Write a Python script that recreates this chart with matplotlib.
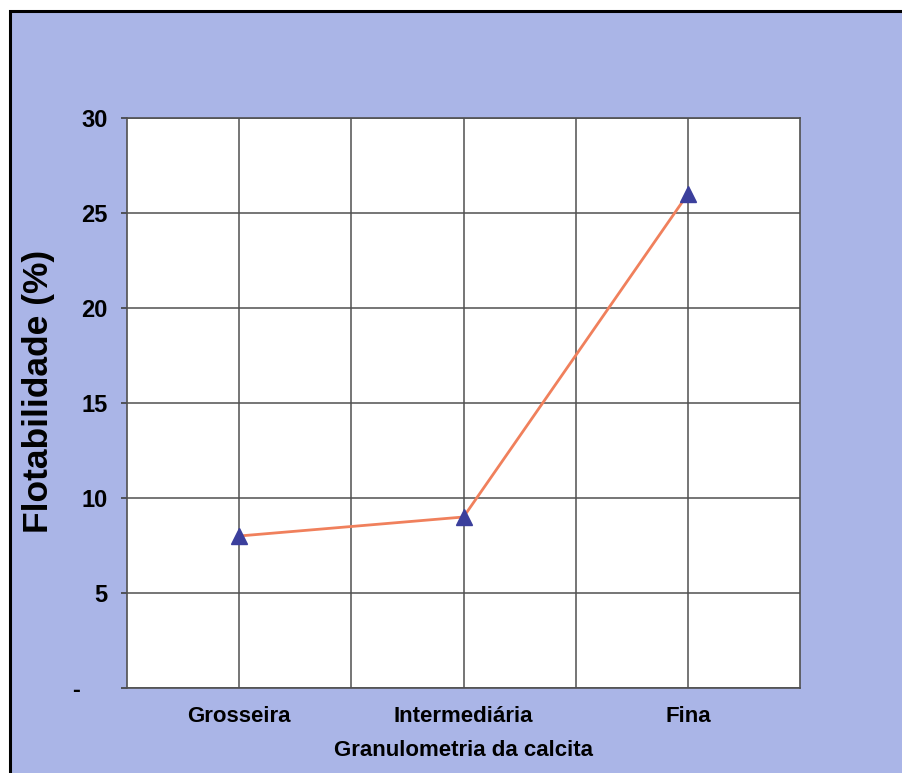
import matplotlib.pyplot as plt
from matplotlib.patches import Rectangle

# flotabilidade por faixa granulométrica
categorias = ["Grosseira", "Intermediária", "Fina"]
flotabilidade = [8, 9, 26]
posicoes = [1, 3, 5]
yticks = [0, 5, 10, 15, 20, 25, 30]
ytick_labels = ["-    ", "5", "10", "15", "20", "25", "30"]

plt.rcParams["font.family"] = ["Liberation Sans", "DejaVu Sans"]
plt.rcParams["font.weight"] = "bold"

fig = plt.figure(figsize=(9.02, 7.73), dpi=100)
fig.patch.set_facecolor("white")

# fundo lilás com borda preta
W, H = 902, 773
fundo = Rectangle((10 / W, -0.01), 1.02, (H - 11) / H + 0.01,
                  transform=fig.transFigure, facecolor="#AAB5E7",
                  edgecolor="black", linewidth=2.2, zorder=-10)
fig.patches.append(fundo)

ax = fig.add_axes([127 / W, 85 / H, 673 / W, 570 / H])
ax.set_zorder(1)
ax.set_facecolor("white")

ax.plot(posicoes, flotabilidade, color="#F0805C", linewidth=2, zorder=3)
ax.plot(posicoes, flotabilidade, linestyle="none", marker="^",
        markersize=11, color="#3B3F9C", zorder=4)

ax.set_xlim(0, 6)
ax.set_ylim(0, 30)
ax.set_xticks(posicoes)
ax.set_xticklabels(categorias, fontsize=16, fontweight="bold")
ax.set_xticks([2, 4], minor=True)
ax.set_yticks(yticks)
ax.set_yticklabels(ytick_labels, fontsize=17, fontweight="bold")

ax.tick_params(axis="x", which="both", length=0, pad=13)
ax.tick_params(axis="y", length=4, width=1.2, color="#404040", pad=10)
ax.grid(True, which="both", color="#505050", linewidth=1.1)
ax.set_axisbelow(True)
for s in ax.spines.values():
    s.set_color("#505050")
    s.set_linewidth(1.2)

ax.set_xlabel("Granulometria da calcita", fontsize=16, fontweight="bold",
              labelpad=9)
ax.set_ylabel("Flotabilidade (%)", fontsize=25.5, fontweight="bold")
ax.yaxis.set_label_coords(-0.107, 0.52)

fig.savefig("out.png", dpi=100)
